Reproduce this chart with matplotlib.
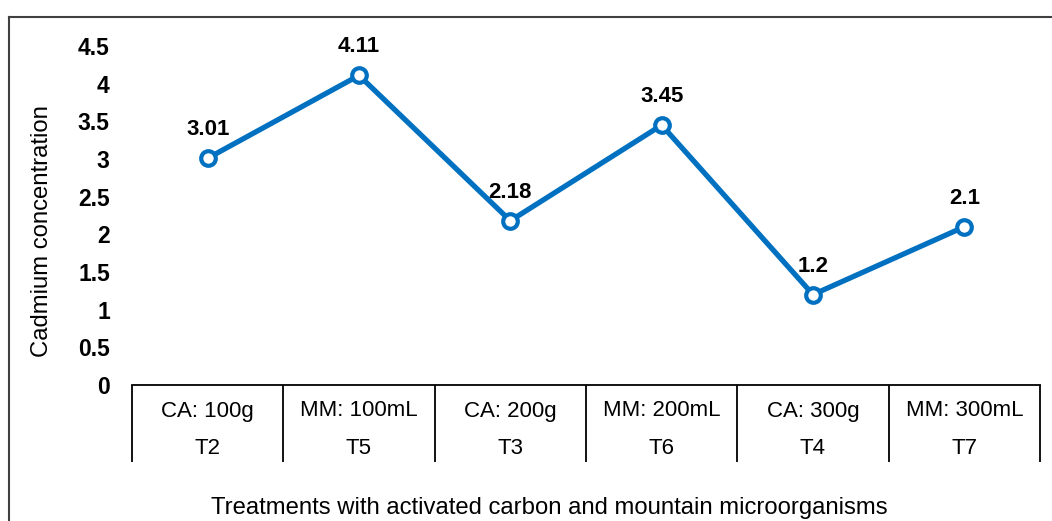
import matplotlib
matplotlib.use('Agg')
import matplotlib.pyplot as plt
import matplotlib.transforms as mtransforms
from matplotlib.lines import Line2D

plt.rcParams['font.family'] = ['Liberation Sans', 'DejaVu Sans']

# data
doses = ['CA: 100g', 'MM: 100mL', 'CA: 200g', 'MM: 200mL', 'CA: 300g', 'MM: 300mL']
treatments = ['T2', 'T5', 'T3', 'T6', 'T4', 'T7']
cadmium = [3.01, 4.11, 2.18, 3.45, 1.2, 2.1]
value_labels = ['3.01', '4.11', '2.18', '3.45', '1.2', '2.1']
y_ticks = [0, 0.5, 1, 1.5, 2, 2.5, 3, 3.5, 4, 4.5]
y_tick_labels = ['0', '0.5', '1', '1.5', '2', '2.5', '3', '3.5', '4', '4.5']

W, H = 1052, 521
fig = plt.figure(figsize=(W / 100, H / 100), dpi=100)
ax = fig.add_axes([132 / W, 1 - 385 / H, (1040 - 132) / W, (385 - 46) / H])

blue = '#0070C0'
x = list(range(len(cadmium)))
ax.plot(x, cadmium, color=blue, lw=3.8, marker='o', ms=10.5, mfc='white',
        mec=blue, mew=3, zorder=3)
for xi, yi, lab in zip(x, cadmium, value_labels):
    ax.annotate(lab, (xi, yi), xytext=(0, 13), textcoords='offset points',
                ha='center', va='bottom', fontsize=16, fontweight='bold')

ax.set_xlim(-0.5, len(cadmium) - 0.5)
ax.set_ylim(0, 4.5)
ax.set_yticks(y_ticks)
ax.set_yticklabels(y_tick_labels, fontsize=16.5, fontweight='bold')
ax.tick_params(axis='y', length=0, pad=16)

# category table under the axis
ax.set_xticks([])
ax.set_xticks([i - 0.5 for i in range(len(cadmium) + 1)], minor=True)
ax.tick_params(axis='x', which='minor', length=55.5, width=1.3, color='black',
               direction='out', labelbottom=False)
trans = mtransforms.blended_transform_factory(ax.transData, ax.transAxes)
axh = (385 - 46)
for i, (d, t) in enumerate(zip(doses, treatments)):
    ax.text(i, -(411 - 385) / axh, d, transform=trans, ha='center', va='center',
            fontsize=16)
    ax.text(i, -(449 - 385) / axh, t, transform=trans, ha='center', va='center',
            fontsize=16)

for s in ['top', 'right', 'left']:
    ax.spines[s].set_visible(False)
ax.spines['bottom'].set_linewidth(1.3)

fig.text(42 / W, 1 - 231 / H, 'Cadmium concentration', rotation=90,
         ha='center', va='center', fontsize=17.2)
fig.text(549 / W, 1 - 508 / H, 'Treatments with activated carbon and mountain microorganisms',
         ha='center', va='center', fontsize=17.2)

# outer frame (only left and top visible)
fig.add_artist(Line2D([8.5 / W, 8.5 / W], [0, 1 - 16.5 / H], color='#404040', lw=1.5,
                      transform=fig.transFigure))
fig.add_artist(Line2D([8.5 / W, 1], [1 - 16.5 / H, 1 - 16.5 / H], color='#404040', lw=1.5,
                      transform=fig.transFigure))

fig.savefig('out.png', dpi=100)
